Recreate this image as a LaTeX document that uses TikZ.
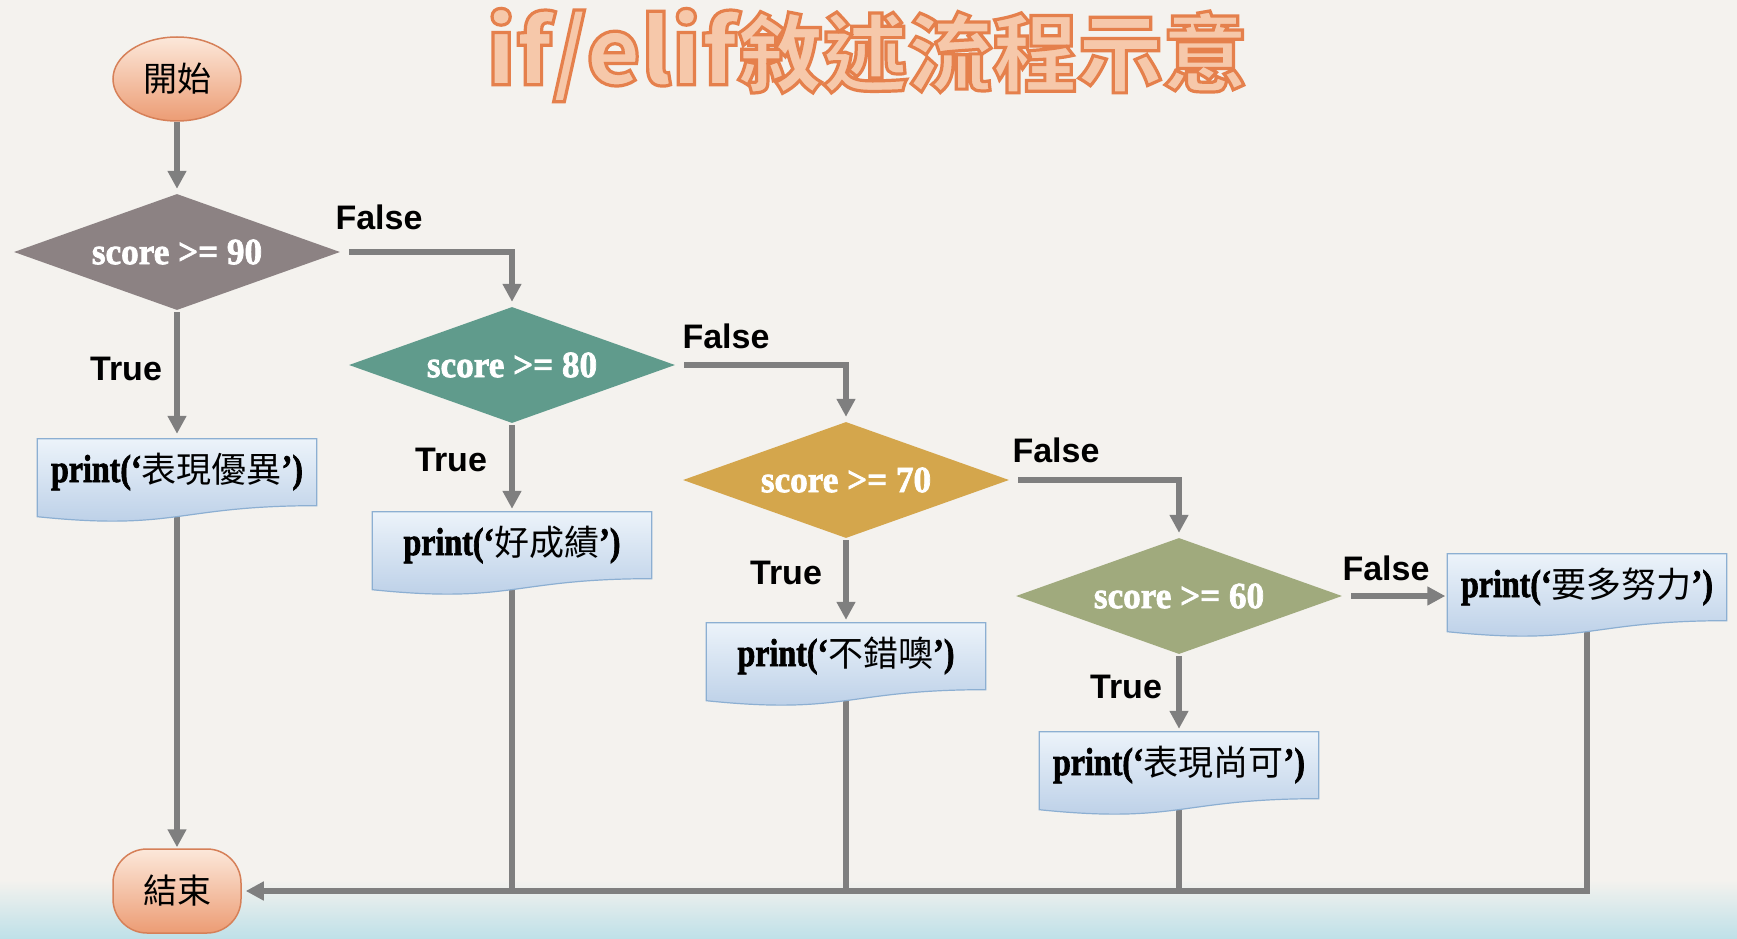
\documentclass[tikz,border=0pt]{standalone}
\usepackage{fontspec}
\usepackage{graphicx}
\setmainfont{Liberation Serif}
\newfontfamily\cjk{Noto Sans CJK TC}
\newfontfamily\lab{Liberation Sans}
\newfontfamily\cond{Liberation Serif}[UprightFont=* Bold, FakeBold=2]
\usetikzlibrary{shapes.geometric,arrows.meta,calc}
\pgfdeclarelayer{paper}
\pgfdeclarelayer{lines}
\pgfdeclarelayer{shapes}
\pgfsetlayers{paper,lines,shapes,main}

\definecolor{paperc}{RGB}{244,242,238}
\definecolor{linec}{RGB}{127,127,127}
\definecolor{d1c}{RGB}{140,130,131}
\definecolor{d2c}{RGB}{96,155,140}
\definecolor{d3c}{RGB}{212,166,76}
\definecolor{d4c}{RGB}{160,170,125}
\definecolor{doctop}{RGB}{236,243,250}
\definecolor{docbot}{RGB}{184,205,230}
\definecolor{docline}{RGB}{140,175,210}
\definecolor{termtop}{RGB}{252,232,218}
\definecolor{termbot}{RGB}{236,156,116}
\definecolor{termline}{RGB}{214,128,88}
\definecolor{titlefill}{RGB}{246,200,170}
\definecolor{cyanwash}{RGB}{190,224,232}

\newcommand{\scoretxt}[1]{\scalebox{0.95}[1]{\cond\fontsize{37}{37}\selectfont #1}}
\newcommand{\prt}[1]{{\cond\fontsize{39}{39}\selectfont\scalebox{0.82}[1]{print(‘}}{\cjk\fontsize{35}{35}\selectfont #1}{\cond\fontsize{39}{39}\selectfont\scalebox{0.82}[1]{’)}}}
\newcommand{\titletext}{{\color{titlefill}\special{pdf:literal direct 2 Tr 3.2 w 0.90 0.50 0.30 RG}{\cjk\bfseries\fontsize{85}{85}\selectfont{\fontsize{92}{92}\selectfont if/elif}敘述流程示意}\special{pdf:literal direct 0 Tr 1 w}}}

\newcommand{\docpath}[1]{%
  \begin{pgfonlayer}{shapes}
  \path[docshape] (#1.north west) -- (#1.north east) -- ($(#1.north east)!0.802!(#1.south east)$)
    .. controls ($(#1.north)!0.802!(#1.south)$) and ($(#1.north)!1.107!(#1.south)$) .. ($(#1.north west)!0.934!(#1.south west)$) -- cycle;
  \end{pgfonlayer}}

\tikzset{
  decision/.style={diamond, aspect=2.81, minimum width=326pt, minimum height=116pt, inner sep=0pt, text=white},
  docnode/.style={minimum width=279pt, inner xsep=0pt, inner ysep=0pt, text height=43pt, text depth=40pt},
  docshape/.style={draw=docline, line width=1.2pt, top color=doctop, bottom color=docbot},
  term/.style={draw=termline, line width=1.5pt, top color=termtop, bottom color=termbot, minimum width=128pt, minimum height=84pt, inner sep=0pt, font={\cjk\fontsize{34}{34}\selectfont}},
  conn/.style={draw=linec, line width=6pt, -{Triangle[length=18pt,width=18pt]}},
  plainline/.style={draw=linec, line width=6pt},
  lbl/.style={font={\lab\bfseries\fontsize{34}{34}\selectfont}, text=black, inner sep=0pt},
}

\begin{document}
\begin{tikzpicture}[x=1pt,y=-1pt]
\useasboundingbox (0,0) rectangle (1737,939);
\begin{pgfonlayer}{paper}
  \fill[paperc] (0,0) rectangle (1737,939);
  \shade[top color=paperc, bottom color=cyanwash] (0,880) rectangle (1737,939);
\end{pgfonlayer}

\node (title) at (867,55) {\titletext};

\node[term, ellipse] (start) at (177,79) {開始};
\node[term, rectangle, rounded corners=34pt] (end) at (177,891) {結束};

\node[decision, fill=d1c] (d1) at (177,252) {\scoretxt{score >= 90}};
\node[decision, fill=d2c] (d2) at (512,365) {\scoretxt{score >= 80}};
\node[decision, fill=d3c] (d3) at (846,480) {\scoretxt{score >= 70}};
\node[decision, fill=d4c] (d4) at (1179,596) {\scoretxt{score >= 60}};

\node[docnode] (p1) at (177,480.5) {\prt{表現優異}};
\node[docnode] (p2) at (512,553.5) {\prt{好成績}};
\node[docnode] (p3) at (846,664.5) {\prt{不錯噢}};
\node[docnode] (p5) at (1179,773.5) {\prt{表現尚可}};
\node[docnode] (p4) at (1587,595.5) {\prt{要多努力}};
\docpath{p1}\docpath{p2}\docpath{p3}\docpath{p5}\docpath{p4}

\node[lbl] (f1) at (379,217) {False};
\node[lbl] (t1) at (126,369) {True};
\node[lbl] (f2) at (726,336) {False};
\node[lbl] (t2) at (451,460) {True};
\node[lbl] (f3) at (1056,450) {False};
\node[lbl] (t3) at (786,573) {True};
\node[lbl] (f4) at (1386,568) {False};
\node[lbl] (t4) at (1126,687) {True};

\begin{pgfonlayer}{lines}
  \draw[conn, shorten >=5pt] (start) -- (d1);
  \draw[conn, shorten >=5pt, shorten <=2pt] (d1.south) -- (p1.north);
  \draw[conn, shorten >=3pt, shorten <=2pt] (d2.south) -- (p2.north);
  \draw[conn, shorten >=3pt, shorten <=2pt] (d3.south) -- (p3.north);
  \draw[conn, shorten >=3pt, shorten <=2pt] (d4.south) -- (p5.north);
  \draw[conn, shorten >=5pt] ([xshift=9pt]d1.east) -| (d2.north);
  \draw[conn, shorten >=5pt] ([xshift=9pt]d2.east) -| (d3.north);
  \draw[conn, shorten >=5pt] ([xshift=9pt]d3.east) -| (d4.north);
  \draw[conn, shorten >=2pt] ([xshift=9pt]d4.east) -- (d4.east -| p4.west);
  \draw[conn, shorten >=1pt] (p1.center) -- (end.north);
  \draw[conn, shorten >=4pt] (p4.center) |- (end.east);
  \draw[plainline] (p2.center) -- (p2.center |- end.east);
  \draw[plainline] (p3.center) -- (p3.center |- end.east);
  \draw[plainline] (p5.center) -- (p5.center |- end.east);
\end{pgfonlayer}
\end{tikzpicture}
\end{document}
